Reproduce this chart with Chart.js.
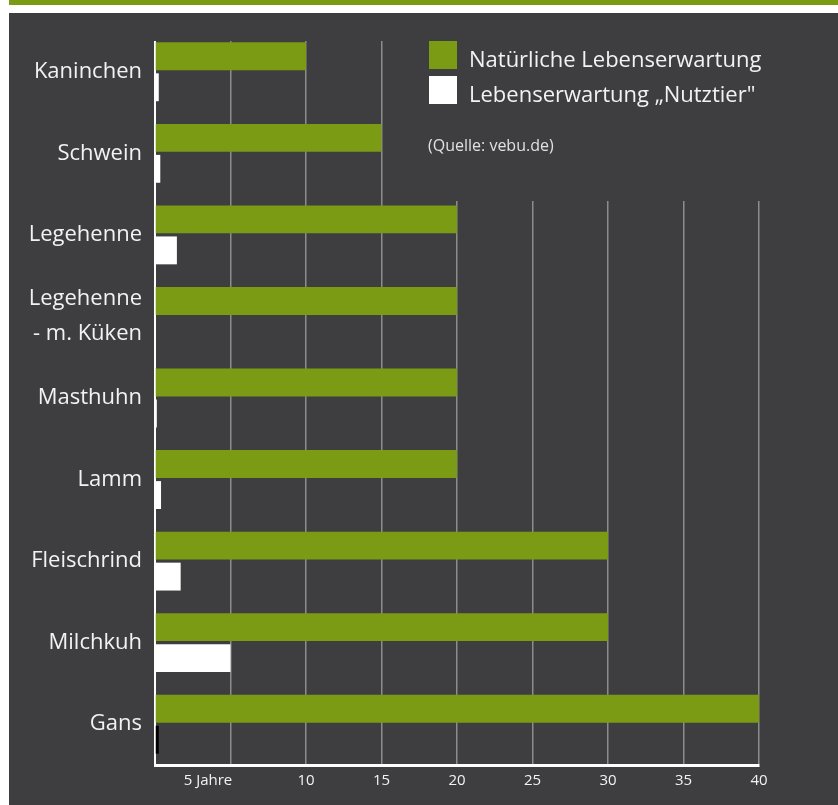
<!DOCTYPE html>
<html>
<head>
<meta charset="utf-8">
<script src="https://cdn.jsdelivr.net/npm/chart.js@4/dist/chart.umd.min.js"></script>
<style>
  html, body { margin: 0; padding: 0; background: #fff; }
  body { width: 838px; height: 805px; position: relative; overflow: hidden; }
  .topbar { position: absolute; left: 9px; top: 0; width: 829px; height: 5px; background: #7a9b13; }
  .panel { position: absolute; left: 9px; top: 13px; width: 829px; height: 792px; background: #3e3e40; }
</style>
</head>
<body>
<div class="topbar"></div>
<div class="panel"><canvas id="chart" width="829" height="792"></canvas></div>
<script>
// Data
const categories = ['Kaninchen', 'Schwein', 'Legehenne', ['Legehenne', '- m. Küken'], 'Masthuhn', 'Lamm', 'Fleischrind', 'Milchkuh', 'Gans'];
const natural = [10, 15, 20, 20, 20, 20, 30, 30, 40];
const livestock = [0.25, 0.35, 1.45, 0, 0.12, 0.4, 1.7, 5, 0.25];
const tickValues = [5, 10, 15, 20, 25, 30, 35, 40];
const legendLabels = ['Natürliche Lebenserwartung', 'Lebenserwartung \u201eNutztier"'];
const sourceText = '(Quelle: vebu.de)';

const BG = '#3e3e40';
const GREEN = '#7a9b13';
const FONT = '"Open Sans"';

// paints over the grid where the legend sits and above the first bar
const coverPlugin = {
  id: 'cover',
  beforeDatasetsDraw(chart) {
    const { ctx, chartArea } = chart;
    ctx.save();
    ctx.fillStyle = BG;
    ctx.fillRect(chartArea.left - 4, chartArea.top - 2, chartArea.right - chartArea.left + 8, 12);
    ctx.fillRect(411, chartArea.top - 2, chart.width - 411, 172);
    ctx.restore();
  },
  afterDraw(chart) {
    const { ctx } = chart;
    ctx.save();
    ctx.textBaseline = 'middle';
    ctx.fillStyle = GREEN;
    ctx.fillRect(420, 28, 28, 28);
    ctx.fillStyle = '#ffffff';
    ctx.fillRect(420, 63, 28, 28);
    ctx.fillStyle = '#f2f2f2';
    ctx.font = '22px ' + FONT;
    ctx.fillText(legendLabels[0], 460, 48);
    ctx.fillText(legendLabels[1], 460, 83);
    ctx.fillStyle = '#e0e0e0';
    ctx.font = '16px ' + FONT;
    ctx.fillText(sourceText, 419, 133);
    ctx.restore();
  }
};

new Chart(document.getElementById('chart'), {
  type: 'bar',
  data: {
    labels: categories,
    datasets: [
      {
        label: legendLabels[0],
        data: natural,
        backgroundColor: GREEN,
        categoryPercentage: 0.76,
        barPercentage: 0.9
      },
      {
        label: legendLabels[1],
        data: livestock,
        backgroundColor: livestock.map((v, i) => i === livestock.length - 1 ? '#000000' : '#ffffff'),
        categoryPercentage: 0.76,
        barPercentage: 0.9
      }
    ]
  },
  options: {
    indexAxis: 'y',
    responsive: false,
    animation: false,
    devicePixelRatio: 1,
    layout: { autoPadding: false, padding: { top: 18, right: 79, left: 0, bottom: 0 } },
    plugins: {
      legend: { display: false },
      tooltip: { enabled: false }
    },
    scales: {
      x: {
        min: 0,
        max: 40,
        afterBuildTicks: (axis) => { axis.ticks = [0].concat(tickValues).map(v => ({ value: v })); },
        afterFit: (axis) => { axis.height = 40; },
        grid: {
          drawTicks: false,
          color: (c) => c.tick && c.tick.value === 0 ? 'rgba(0,0,0,0)' : '#8c8c8c',
          lineWidth: 1.5
        },
        border: { color: '#ffffff', width: 3 },
        ticks: {
          color: '#f2f2f2',
          font: { family: FONT, size: 15 },
          padding: 7,
          autoSkip: false,
          maxRotation: 0,
          // "5 Jahre" ends at its grid line, so pad it on the right
          callback: (v) => v === 0 ? '' : (v === 5 ? '5 Jahre\u2003\u2003\u2003' : String(v))
        }
      },
      y: {
        afterFit: (axis) => {
          axis.width = 146;
          axis.paddingTop = 0;
          axis.paddingBottom = 0;
        },
        grid: { display: false, drawTicks: false },
        border: { color: '#ffffff', width: 2 },
        ticks: {
          color: '#f2f2f2',
          font: { family: FONT, size: 22, lineHeight: 1.6 },
          padding: 13
        }
      }
    }
  },
  plugins: [coverPlugin]
});
</script>
</body>
</html>
